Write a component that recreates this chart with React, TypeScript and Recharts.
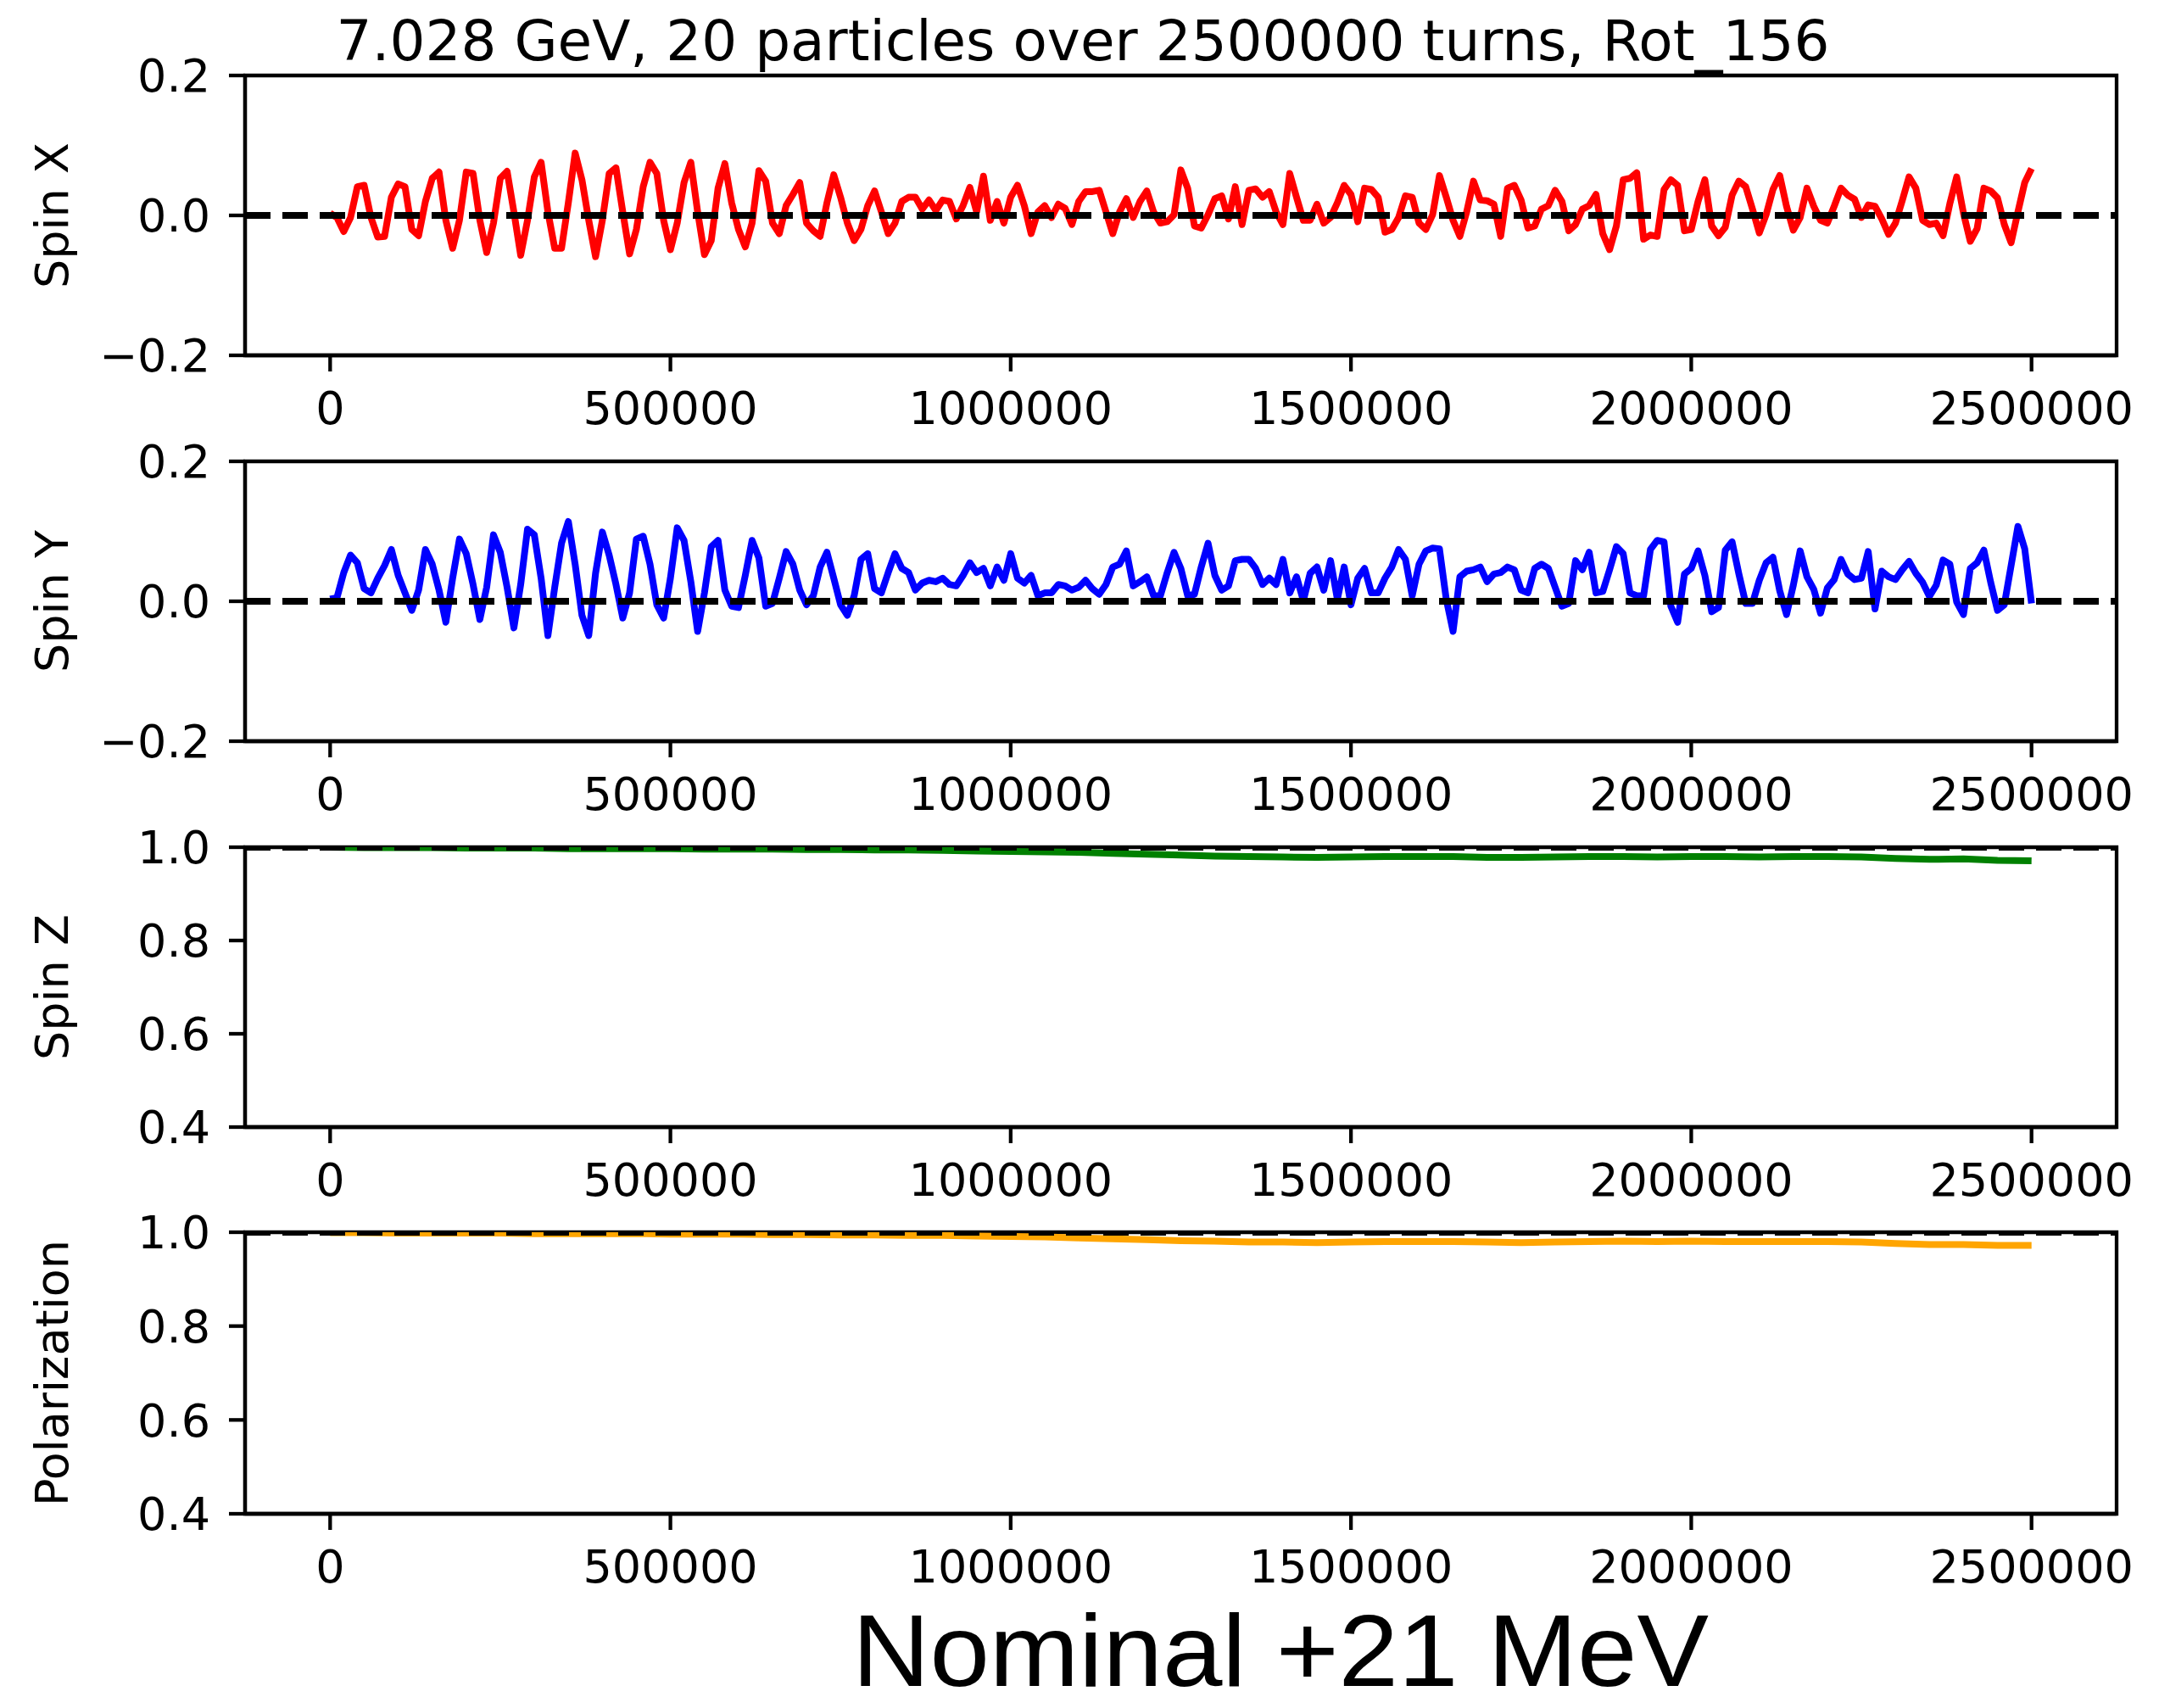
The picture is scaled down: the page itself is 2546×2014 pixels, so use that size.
import React from 'react';
import { LineChart, Line, XAxis, YAxis, ReferenceLine, ReferenceArea } from 'recharts';

const FONT = "'DejaVu Sans', sans-serif";
const W = 2546;
const H = 2014;
const PLOT_LEFT = 289;
const PLOT_RIGHT = 2496;
const X_DOMAIN: [number, number] = [-125000, 2625000];

const turnTicks = [0, 500000, 1000000, 1500000, 2000000, 2500000];
const spinTicks = [-0.2, 0, 0.2];
const unitTicks = [0.4, 0.6, 0.8, 1.0];

// sample turns for the oscillating spin components (every 10000 turns)
const spinTurns = [
  0, 10000, 20000, 30000, 40000, 50000, 60000, 70000, 80000, 90000,
  100000, 110000, 120000, 130000, 140000, 150000, 160000, 170000, 180000, 190000,
  200000, 210000, 220000, 230000, 240000, 250000, 260000, 270000, 280000, 290000,
  300000, 310000, 320000, 330000, 340000, 350000, 360000, 370000, 380000, 390000,
  400000, 410000, 420000, 430000, 440000, 450000, 460000, 470000, 480000, 490000,
  500000, 510000, 520000, 530000, 540000, 550000, 560000, 570000, 580000, 590000,
  600000, 610000, 620000, 630000, 640000, 650000, 660000, 670000, 680000, 690000,
  700000, 710000, 720000, 730000, 740000, 750000, 760000, 770000, 780000, 790000,
  800000, 810000, 820000, 830000, 840000, 850000, 860000, 870000, 880000, 890000,
  900000, 910000, 920000, 930000, 940000, 950000, 960000, 970000, 980000, 990000,
  1000000, 1010000, 1020000, 1030000, 1040000, 1050000, 1060000, 1070000, 1080000, 1090000,
  1100000, 1110000, 1120000, 1130000, 1140000, 1150000, 1160000, 1170000, 1180000, 1190000,
  1200000, 1210000, 1220000, 1230000, 1240000, 1250000, 1260000, 1270000, 1280000, 1290000,
  1300000, 1310000, 1320000, 1330000, 1340000, 1350000, 1360000, 1370000, 1380000, 1390000,
  1400000, 1410000, 1420000, 1430000, 1440000, 1450000, 1460000, 1470000, 1480000, 1490000,
  1500000, 1510000, 1520000, 1530000, 1540000, 1550000, 1560000, 1570000, 1580000, 1590000,
  1600000, 1610000, 1620000, 1630000, 1640000, 1650000, 1660000, 1670000, 1680000, 1690000,
  1700000, 1710000, 1720000, 1730000, 1740000, 1750000, 1760000, 1770000, 1780000, 1790000,
  1800000, 1810000, 1820000, 1830000, 1840000, 1850000, 1860000, 1870000, 1880000, 1890000,
  1900000, 1910000, 1920000, 1930000, 1940000, 1950000, 1960000, 1970000, 1980000, 1990000,
  2000000, 2010000, 2020000, 2030000, 2040000, 2050000, 2060000, 2070000, 2080000, 2090000,
  2100000, 2110000, 2120000, 2130000, 2140000, 2150000, 2160000, 2170000, 2180000, 2190000,
  2200000, 2210000, 2220000, 2230000, 2240000, 2250000, 2260000, 2270000, 2280000, 2290000,
  2300000, 2310000, 2320000, 2330000, 2340000, 2350000, 2360000, 2370000, 2380000, 2390000,
  2400000, 2410000, 2420000, 2430000, 2440000, 2450000, 2460000, 2470000, 2480000, 2490000,
  2500000,
];

const spinXValues = [
  0.003, -0.003, -0.023, -0.003, 0.041, 0.043, -0.003, -0.031, -0.030, 0.026,
  0.045, 0.041, -0.020, -0.029, 0.020, 0.053, 0.062, -0.007, -0.047, -0.007,
  0.062, 0.060, -0.007, -0.053, -0.011, 0.053, 0.063, 0.005, -0.057, -0.007,
  0.055, 0.076, 0.005, -0.047, -0.047, 0.018, 0.089, 0.051, -0.007, -0.059,
  -0.007, 0.060, 0.068, 0.005, -0.055, -0.020, 0.041, 0.076, 0.060, -0.007,
  -0.049, -0.011, 0.047, 0.076, 0.005, -0.056, -0.036, 0.039, 0.074, 0.018,
  -0.020, -0.045, -0.011, 0.064, 0.049, -0.011, -0.026, 0.014, 0.030, 0.047,
  -0.011, -0.022, -0.030, 0.018, 0.058, 0.026, -0.011, -0.036, -0.020, 0.014,
  0.035, 0.005, -0.026, -0.011, 0.020, 0.026, 0.026, 0.009, 0.022, 0.007,
  0.022, 0.020, -0.005, 0.014, 0.040, 0.005, 0.056, -0.007, 0.020, -0.011,
  0.026, 0.043, 0.014, -0.026, 0.005, 0.014, -0.003, 0.016, 0.010, -0.013,
  0.020, 0.034, 0.034, 0.036, 0.005, -0.026, 0.005, 0.024, -0.003, 0.020,
  0.035, 0.005, -0.011, -0.009, 0.001, 0.065, 0.039, -0.015, -0.018, 0.001,
  0.024, 0.028, -0.005, 0.041, -0.013, 0.036, 0.038, 0.026, 0.034, 0.005,
  -0.013, 0.060, 0.026, -0.007, -0.007, 0.016, -0.011, -0.003, 0.018, 0.043,
  0.030, -0.009, 0.039, 0.037, 0.026, -0.024, -0.020, -0.003, 0.028, 0.026,
  -0.011, -0.020, 0.001, 0.057, 0.026, -0.007, -0.030, 0.005, 0.049, 0.022,
  0.021, 0.016, -0.030, 0.039, 0.043, 0.022, -0.018, -0.015, 0.009, 0.014,
  0.036, 0.020, -0.022, -0.013, 0.009, 0.014, 0.030, -0.026, -0.049, -0.015,
  0.051, 0.053, 0.061, -0.034, -0.028, -0.030, 0.037, 0.051, 0.043, -0.022,
  -0.020, 0.020, 0.051, -0.015, -0.029, -0.017, 0.029, 0.049, 0.041, 0.009,
  -0.025, 0.001, 0.037, 0.057, 0.013, -0.021, -0.003, 0.039, 0.013, -0.007,
  -0.011, 0.013, 0.039, 0.029, 0.023, -0.003, 0.015, 0.013, -0.005, -0.027,
  -0.011, 0.021, 0.055, 0.039, -0.007, -0.013, -0.011, -0.029, 0.017, 0.055,
  0.003, -0.037, -0.019, 0.039, 0.035, 0.025, -0.013, -0.039, 0.005, 0.047,
  0.067,
];

const spinYValues = [
  0.003, 0.005, 0.041, 0.066, 0.055, 0.018, 0.012, 0.033, 0.051, 0.074,
  0.037, 0.012, -0.013, 0.016, 0.074, 0.053, 0.016, -0.030, 0.033, 0.089,
  0.068, 0.024, -0.026, 0.020, 0.095, 0.070, 0.020, -0.038, 0.024, 0.103,
  0.095, 0.033, -0.049, 0.020, 0.083, 0.114, 0.053, -0.020, -0.049, 0.040,
  0.099, 0.066, 0.024, -0.024, 0.012, 0.089, 0.093, 0.053, -0.005, -0.024,
  0.033, 0.105, 0.087, 0.028, -0.043, 0.012, 0.078, 0.087, 0.016, -0.007,
  -0.009, 0.037, 0.087, 0.062, -0.007, -0.003, 0.033, 0.071, 0.053, 0.016,
  -0.005, 0.008, 0.049, 0.070, 0.033, -0.005, -0.020, 0.008, 0.060, 0.068,
  0.018, 0.012, 0.041, 0.068, 0.047, 0.041, 0.016, 0.026, 0.030, 0.028,
  0.033, 0.024, 0.022, 0.037, 0.055, 0.041, 0.047, 0.022, 0.049, 0.030,
  0.068, 0.033, 0.026, 0.037, 0.008, 0.012, 0.012, 0.024, 0.022, 0.016,
  0.020, 0.030, 0.018, 0.010, 0.024, 0.049, 0.053, 0.072, 0.022, 0.028,
  0.035, 0.008, 0.008, 0.041, 0.070, 0.047, 0.008, 0.010, 0.049, 0.083,
  0.037, 0.016, 0.022, 0.058, 0.060, 0.060, 0.047, 0.024, 0.033, 0.024,
  0.060, 0.012, 0.035, 0.001, 0.040, 0.049, 0.016, 0.058, 0.003, 0.049,
  -0.005, 0.033, 0.047, 0.012, 0.012, 0.033, 0.049, 0.074, 0.060, 0.008,
  0.053, 0.072, 0.076, 0.075, 0.003, -0.043, 0.035, 0.043, 0.045, 0.049,
  0.028, 0.039, 0.041, 0.049, 0.045, 0.016, 0.012, 0.047, 0.053, 0.047,
  0.020, -0.007, -0.003, 0.058, 0.045, 0.070, 0.012, 0.014, 0.045, 0.078,
  0.068, 0.012, 0.008, 0.008, 0.074, 0.087, 0.085, -0.007, -0.030, 0.039,
  0.047, 0.072, 0.037, -0.015, -0.009, 0.073, 0.085, 0.039, -0.003, -0.003,
  0.030, 0.055, 0.063, 0.015, -0.019, 0.023, 0.072, 0.035, 0.017, -0.017,
  0.019, 0.031, 0.060, 0.039, 0.031, 0.033, 0.071, -0.011, 0.043, 0.035,
  0.031, 0.045, 0.057, 0.040, 0.027, 0.007, 0.023, 0.059, 0.053, -0.001,
  -0.019, 0.047, 0.055, 0.073, 0.027, -0.013, -0.005, 0.051, 0.107, 0.075,
  -0.003,
];

// slowly varying components (every 50000 turns)
const slowTurns = [
  0, 50000, 100000, 150000, 200000, 250000, 300000, 350000, 400000, 450000,
  500000, 550000, 600000, 650000, 700000, 750000, 800000, 850000, 900000, 950000,
  1000000, 1050000, 1100000, 1150000, 1200000, 1250000, 1300000, 1350000, 1400000, 1450000,
  1500000, 1550000, 1600000, 1650000, 1700000, 1750000, 1800000, 1850000, 1900000, 1950000,
  2000000, 2050000, 2100000, 2150000, 2200000, 2250000, 2300000, 2350000, 2400000, 2450000,
  2500000,
];

const spinZValues = [
  1.000, 0.999, 0.999, 0.999, 0.998, 0.998, 0.998, 0.997, 0.997, 0.997,
  0.997, 0.996, 0.996, 0.996, 0.995, 0.995, 0.994, 0.994, 0.993, 0.992,
  0.991, 0.990, 0.989, 0.987, 0.985, 0.983, 0.981, 0.980, 0.979, 0.978,
  0.979, 0.980, 0.980, 0.980, 0.978, 0.978, 0.979, 0.980, 0.980, 0.979,
  0.980, 0.980, 0.979, 0.980, 0.980, 0.979, 0.976, 0.974, 0.975, 0.972,
  0.971,
];

const polarizationValues = [
  0.999, 0.999, 0.998, 0.998, 0.998, 0.998, 0.997, 0.997, 0.997, 0.997,
  0.996, 0.996, 0.996, 0.995, 0.995, 0.994, 0.994, 0.993, 0.993, 0.992,
  0.991, 0.990, 0.988, 0.986, 0.984, 0.982, 0.981, 0.979, 0.979, 0.978,
  0.979, 0.980, 0.980, 0.980, 0.979, 0.978, 0.979, 0.980, 0.981, 0.980,
  0.981, 0.980, 0.980, 0.980, 0.980, 0.979, 0.976, 0.974, 0.974, 0.972,
  0.972,
];

const build = (turns: number[], values: number[]) =>
  turns.map((t, i) => ({ t, v: values[i] }));

const spinXData = build(spinTurns, spinXValues);
const spinYData = build(spinTurns, spinYValues);
const spinZData = build(slowTurns, spinZValues);
const polData = build(slowTurns, polarizationValues);

const fmtY = (v: number) => v.toFixed(1).replace('-', '\u2212');

const SPINE = 4.3;
const axisStroke = { stroke: '#000', strokeWidth: SPINE };
const tickText = { fill: '#000', fontSize: 54, fontFamily: FONT };

type PanelProps = {
  top: number;
  height: number;
  data: { t: number; v: number }[];
  color: string;
  domain: [number, number];
  ticks: number[];
  refY: number;
};

function Panel({ top, height, data, color, domain, ticks, refY }: PanelProps) {
  const mt = 30;
  const xh = 130;
  return (
    <div style={{ position: 'absolute', left: 0, top: top - mt }}>
      <LineChart
        width={W}
        height={mt + height + xh}
        data={data}
        margin={{ top: mt, right: W - PLOT_RIGHT, bottom: 0, left: 0 }}
      >
        <Line
          dataKey="v"
          type="linear"
          stroke={color}
          strokeWidth={8}
          strokeLinejoin="round"
          dot={false}
          activeDot={false}
          isAnimationActive={false}
        />
        <ReferenceLine
          y={refY}
          stroke="#000"
          strokeWidth={8}
          strokeDasharray="30 14"
          ifOverflow="hidden"
        />
        <ReferenceArea
          x1={X_DOMAIN[0]}
          x2={X_DOMAIN[1]}
          y1={domain[0]}
          y2={domain[1]}
          fill="none"
          fillOpacity={0}
          stroke="#000"
          strokeWidth={SPINE}
          ifOverflow="visible"
        />
        <XAxis
          dataKey="t"
          type="number"
          domain={X_DOMAIN}
          allowDataOverflow
          ticks={turnTicks}
          interval={0}
          height={xh}
          tickSize={19}
          tickMargin={24}
          tick={tickText}
          tickLine={axisStroke}
          axisLine={axisStroke}
        />
        <YAxis
          type="number"
          domain={domain}
          allowDataOverflow
          ticks={ticks}
          interval={0}
          width={PLOT_LEFT}
          tickSize={19}
          tickMargin={22}
          tickFormatter={fmtY}
          tick={tickText}
          tickLine={axisStroke}
          axisLine={axisStroke}
        />
      </LineChart>
    </div>
  );
}

const panels = [
  { top: 89, height: 330, label: 'Spin X' },
  { top: 544, height: 330, label: 'Spin Y' },
  { top: 999, height: 330, label: 'Spin Z' },
  { top: 1453, height: 332, label: 'Polarization' },
];

export default function App() {
  return (
    <div
      style={{
        position: 'absolute',
        left: 0,
        top: 0,
        width: W,
        height: H,
        background: '#fff',
        overflow: 'hidden',
      }}
    >
      <Panel top={panels[0].top} height={panels[0].height} data={spinXData} color="#ff0000" domain={[-0.2, 0.2]} ticks={spinTicks} refY={0} />
      <Panel top={panels[1].top} height={panels[1].height} data={spinYData} color="#0000ff" domain={[-0.2, 0.2]} ticks={spinTicks} refY={0} />
      <Panel top={panels[2].top} height={panels[2].height} data={spinZData} color="#008000" domain={[0.4, 1.0]} ticks={unitTicks} refY={1.0} />
      <Panel top={panels[3].top} height={panels[3].height} data={polData} color="#ffa500" domain={[0.4, 1.0]} ticks={unitTicks} refY={1.0} />
      <svg
        width={W}
        height={H}
        style={{ position: 'absolute', left: 0, top: 0, pointerEvents: 'none' }}
      >
        <text x={1277} y={71} textAnchor="middle" fontFamily={FONT} fontSize={66} fill="#000">
          7.028 GeV, 20 particles over 2500000 turns, Rot_156
        </text>
        {panels.map((p) => {
          const cy = p.top + p.height / 2;
          return (
            <text
              key={p.label}
              x={80}
              y={cy}
              transform={`rotate(-90 80 ${cy})`}
              textAnchor="middle"
              fontFamily={FONT}
              fontSize={54}
              fill="#000"
            >
              {p.label}
            </text>
          );
        })}
        <text
          x={1510}
          y={1988}
          textAnchor="middle"
          textLength={1010}
          lengthAdjust="spacingAndGlyphs"
          fontFamily="'Liberation Sans', Arial, sans-serif"
          fontSize={120}
          fill="#000"
        >
          Nominal +21 MeV
        </text>
      </svg>
    </div>
  );
}
